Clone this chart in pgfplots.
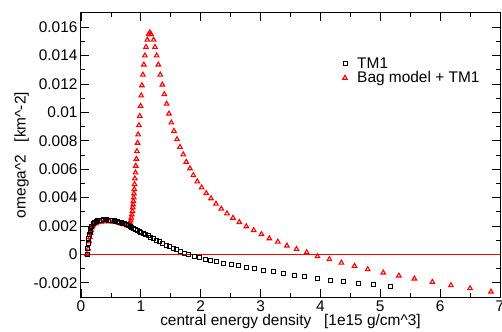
\documentclass[border=0pt]{standalone}
\usepackage{fontspec}
\setmainfont{Liberation Sans}
\usepackage{pgfplots}
\pgfplotsset{compat=1.18}
\begin{document}
\begin{tikzpicture}
\path[use as bounding box] (-81bp,-35bp) rectangle (421bp,297bp);
\begin{axis}[
  at={(0,0)}, anchor=south west,
  width=419bp, height=284bp, scale only axis,
  xmin=0, xmax=7, ymin=-0.003, ymax=0.017,
  xtick={0,1,2,3,4,5,6,7},
  minor x tick num=1,
  ytick={-0.002,0,0.002,0.004,0.006,0.008,0.01,0.012,0.014,0.016},
  yticklabels={-0.002,0,0.002,0.004,0.006,0.008,0.01,0.012,0.014,0.016},
  xticklabels={0,1,2,3,4,5,6,7},
  scaled y ticks=false,
  minor y tick num=1,
  tick align=inside,
  xtick pos=both, ytick pos=both,
  xticklabel pos=bottom, yticklabel pos=left,
  major tick length=8bp, minor tick length=4bp,
  tick style={black, line width=0.8bp},
  axis line style={line width=1bp},
  ticklabel style={font=\fontsize{15.5}{18}\selectfont},
  label style={font=\fontsize{15.5}{18}\selectfont},
  xlabel={central energy density\ \ \ [1e15 g/cm\textasciicircum 3]},
  ylabel={omega\textasciicircum 2\ \ \ [km\textasciicircum -2]},
  xlabel style={yshift=4bp},
  ylabel style={yshift=-2bp},
  legend style={draw=none, fill=none, at={(0.617,0.858)}, anchor=north west,
    font=\fontsize{15.5}{16}\selectfont, row sep=-2bp},
  legend cell align=left,
  reverse legend,
]
\addplot[red, line width=1bp, forget plot] coordinates {(0,0) (7,0)};
\addplot[only marks, mark=triangle, mark size=2.6bp, mark options={red, line width=1.1bp}] coordinates {
(0.10,0.0) (0.12,0.0004) (0.14,0.0009) (0.15,0.0012) (0.16,0.0015) (0.17,0.0017)
(0.18,0.0019) (0.19,0.0020) (0.20,0.00208) (0.22,0.00215) (0.25,0.0022) (0.29,0.00226)
(0.33,0.0023) (0.38,0.00232) (0.43,0.00233) (0.48,0.00232) (0.53,0.0023) (0.58,0.00226)
(0.63,0.00222) (0.68,0.00216) (0.73,0.0021) (0.77,0.00204) (0.79,0.00205) (0.81,0.0021)
(0.82,0.00222) (0.83,0.00238) (0.84,0.00258) (0.85,0.0028) (0.86,0.00305) (0.865,0.0033)
(0.87,0.00351) (0.875,0.00375) (0.88,0.004) (0.885,0.00429) (0.89,0.00459) (0.895,0.00494)
(0.90,0.00534) (0.91,0.00576) (0.915,0.00623) (0.925,0.00672) (0.935,0.00726) (0.945,0.00785)
(0.955,0.00844) (0.968,0.00909) (0.982,0.00974) (0.995,0.01045) (1.006,0.01118) (1.018,0.0119)
(1.034,0.01265) (1.05,0.01336) (1.068,0.0140) (1.086,0.0146) (1.108,0.01511) (1.13,0.0155)
(1.15,0.01562) (1.17,0.0155) (1.214,0.01511) (1.236,0.0146) (1.264,0.0140) (1.292,0.01336)
(1.325,0.01265) (1.359,0.01195) (1.392,0.01127) (1.431,0.0106) (1.47,0.00991) (1.509,0.00928)
(1.554,0.00869) (1.604,0.0081) (1.654,0.00756) (1.709,0.00703) (1.759,0.00651) (1.82,0.00605)
(1.876,0.00557) (1.943,0.00513) (2.016,0.00471) (2.093,0.00431) (2.172,0.00394) (2.255,0.00356)
(2.344,0.00321) (2.439,0.00288) (2.539,0.00257) (2.645,0.00227) (2.762,0.00197) (2.885,0.0017)
(3.015,0.00142) (3.146,0.00112) (3.288,0.00089) (3.44,0.00061) (3.60,0.00037) (3.77,0.00014)
(3.95,-0.00014) (4.15,-0.00035) (4.35,-0.00059) (4.57,-0.00082) (4.79,-0.00105) (5.05,-0.00129)
(5.31,-0.0015) (5.57,-0.00171) (5.87,-0.00195) (6.18,-0.00218) (6.50,-0.00239) (6.85,-0.00263)
};
\addlegendentry{\hspace{8bp}Bag model + TM1}
\addplot[only marks, mark=square, mark size=2bp, mark options={black, line width=0.8bp}] coordinates {
(0.10,0.0) (0.11,0.0004) (0.12,0.0008) (0.13,0.0011) (0.14,0.0014) (0.15,0.0016)
(0.16,0.0018) (0.18,0.0020) (0.20,0.00215) (0.22,0.00224) (0.25,0.00231) (0.28,0.00236)
(0.31,0.00239) (0.34,0.00241) (0.37,0.00243) (0.40,0.00243) (0.43,0.00243) (0.46,0.00242)
(0.49,0.00241) (0.52,0.00239) (0.55,0.00237) (0.58,0.00234) (0.61,0.00231) (0.64,0.00228)
(0.67,0.00224) (0.70,0.0022) (0.73,0.00215) (0.76,0.0021) (0.79,0.00204) (0.82,0.00198)
(0.85,0.00192) (0.88,0.00186) (0.91,0.00179) (0.94,0.00172) (0.97,0.00165) (1.00,0.00158)
(1.04,0.00149) (1.08,0.0014) (1.12,0.00131) (1.16,0.00122) (1.21,0.00111) (1.26,0.001)
(1.31,0.00089) (1.36,0.00078) (1.42,0.00066) (1.48,0.00054) (1.54,0.00043) (1.60,0.00032)
(1.66,0.00021) (1.73,0.0001) (1.80,0.0) (1.89,-0.00012) (1.98,-0.00021) (2.07,-0.00032)
(2.17,-0.00042) (2.27,-0.00052) (2.38,-0.00061) (2.51,-0.0007) (2.63,-0.0008) (2.76,-0.0009)
(2.89,-0.00098) (3.045,-0.0011) (3.21,-0.00122) (3.38,-0.00133) (3.56,-0.00145) (3.74,-0.00157)
(3.95,-0.00168) (4.16,-0.0018) (4.39,-0.0019) (4.63,-0.00202) (4.89,-0.00214) (5.17,-0.00226)
};
\addlegendentry{\hspace{8bp}TM1}
\end{axis}
\end{tikzpicture}
\end{document}
